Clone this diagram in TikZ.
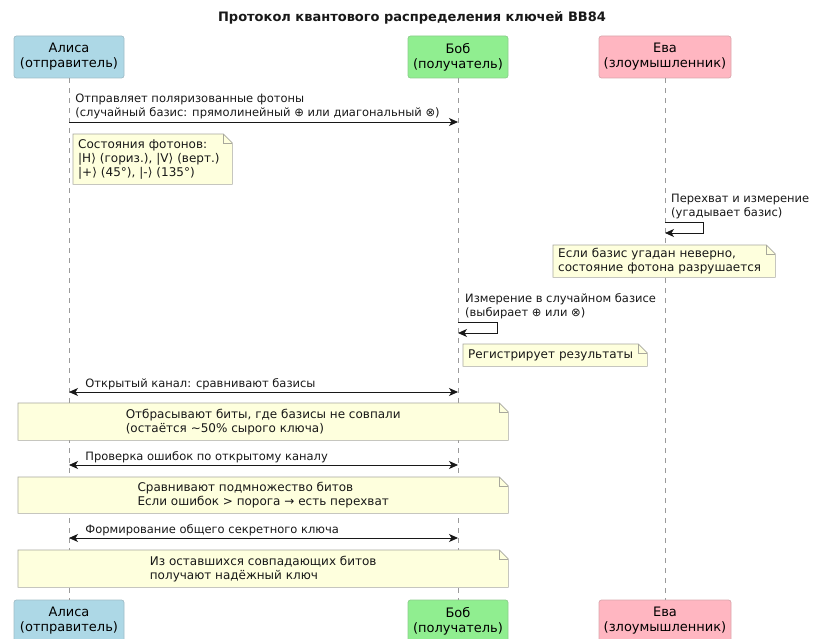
\documentclass[tikz,border=0pt]{standalone}
\usepackage{fontspec}
\setmainfont{DejaVu Sans}
\usetikzlibrary{arrows.meta,positioning,calc}
\definecolor{alicefill}{HTML}{ADD8E6}
\definecolor{bobfill}{HTML}{90EE90}
\definecolor{evefill}{HTML}{FFB6C1}
\definecolor{notefill}{HTML}{FEFFDD}
\definecolor{notedraw}{HTML}{A8A89C}
\definecolor{ink}{HTML}{181818}
\definecolor{lifegray}{HTML}{9A9A9A}
\newcommand{\notefold}[1]{%
  \fill[white] ($(#1.north east)+(-9,0)$) -- (#1.north east) -- ($(#1.north east)+(0,9)$) -- cycle;
  \draw[notedraw,line width=.6pt] (#1.north west) -- ($(#1.north east)+(-9,0)$) -- ($(#1.north east)+(0,9)$)
    -- (#1.south east) -- (#1.south west) -- cycle;
  \draw[notedraw,line width=.6pt] ($(#1.north east)+(-9,0)$) |- ($(#1.north east)+(0,9)$);}

\begin{document}
\begin{tikzpicture}[
  x=1pt,y=-1pt,
  party/.style={draw=#1!70!gray,fill=#1,rounded corners=2.5pt,line width=.7pt,
    minimum height=42pt,inner sep=0pt,align=center,font=\fontsize{13}{15}\selectfont},
  life/.style={draw=lifegray,line width=.6pt,dash pattern=on 5pt off 5pt},
  msg/.style={-{Stealth[length=9pt,width=8pt,inset=2.5pt]},line width=.8pt,draw=ink},
  twoway/.style={msg,{Stealth[length=9pt,width=8pt,inset=2.5pt]}-{Stealth[length=9pt,width=8pt,inset=2.5pt]}},
  msgtext/.style={inner sep=0pt,align=left,anchor=south west,text=ink,
    font=\fontsize{11.5}{13.5}\selectfont},
  note/.style={fill=notefill,inner sep=0pt,align=left,text=ink,
    font=\fontsize{12}{14}\selectfont}
]
\useasboundingbox (0,0) rectangle (813,639);
\node[font=\bfseries\fontsize{13}{15}\selectfont,text=ink] (title) at (412,18)
  {Протокол квантового распределения ключей BB84};
% participants
\node[party=alicefill,minimum width=110pt] (atop) at (69,57) {Алиса\\(отправитель)};
\node[party=bobfill,minimum width=100pt] (btop) at (458,57) {Боб\\(получатель)};
\node[party=evefill,minimum width=132pt] (etop) at (665,57) {Ева\\(злоумышленник)};
\node[party=alicefill,minimum width=110pt] (abot) at (69,621) {Алиса\\(отправитель)};
\node[party=bobfill,minimum width=100pt] (bbot) at (458,621) {Боб\\(получатель)};
\node[party=evefill,minimum width=132pt] (ebot) at (665,621) {Ева\\(злоумышленник)};
\draw[life] (atop) -- (abot);
\draw[life] (btop) -- (bbot);
\draw[life] (etop) -- (ebot);
% photons
\coordinate (a1) at (69,122); \coordinate (b1) at (458,122);
\draw[msg] (a1) -- node[msgtext,pos=0,xshift=6pt,yshift=3pt] (m1)
  {Отправляет поляризованные фотоны\\(случайный базис: прямолинейный ⊕ или диагональный ⊗)} (b1);
\node[note,anchor=north west,minimum height=50pt,text width=149pt,inner xsep=5pt] (n1) at (73,134)
  {Состояния фотонов:\\|H⟩ (гориз.), |V⟩ (верт.)\\|+⟩ (45°), |-⟩ (135°)};
\notefold{n1}
% eve
\coordinate (e1) at (665,222); \coordinate (e2) at (665,233);
\draw[msg] (e1) -- ++(38,0) |- (e2);
\node[msgtext] (m2) at ($(e1)+(6,-3)$) {Перехват и измерение\\(угадывает базис)};
\node[note,anchor=north west,minimum height=32pt,minimum width=222pt,text width=212pt,inner xsep=5pt] (n2) at (553,245)
  {Если базис угадан неверно,\\состояние фотона разрушается};
\notefold{n2}
% bob
\coordinate (b2) at (458,322); \coordinate (b3) at (458,333);
\draw[msg] (b2) -- ++(39,0) |- (b3);
\node[msgtext] (m3) at ($(b2)+(7,-3)$) {Измерение в случайном базисе\\(выбирает ⊕ или ⊗)};
\node[note,anchor=north west,minimum height=22pt,text width=174pt,inner xsep=5pt] (n3) at (463,344)
  {Регистрирует результаты};
\notefold{n3}
% public channel
\coordinate (a4) at (69,392); \coordinate (b4) at (458,392);
\draw[twoway] (a4) -- node[msgtext,pos=0,xshift=16pt,yshift=2pt] (m4) {Открытый канал: сравнивают базисы} (b4);
\node[note,anchor=north west,minimum width=490pt,minimum height=37pt] (n4) at (18,403)
  {Отбрасывают биты, где базисы не совпали\\(остаётся \textasciitilde50\% сырого ключа)};
\notefold{n4}
\coordinate (a5) at (69,465); \coordinate (b5) at (458,465);
\draw[twoway] (a5) -- node[msgtext,pos=0,xshift=16pt,yshift=2pt] (m5) {Проверка ошибок по открытому каналу} (b5);
\node[note,anchor=north west,minimum width=490pt,minimum height=36pt] (n5) at (18,477)
  {Сравнивают подмножество битов\\Если ошибок > порога → есть перехват};
\notefold{n5}
\coordinate (a6) at (69,538); \coordinate (b6) at (458,538);
\draw[twoway] (a6) -- node[msgtext,pos=0,xshift=16pt,yshift=2pt] (m6) {Формирование общего секретного ключа} (b6);
\node[note,anchor=north west,minimum width=490pt,minimum height=37pt] (n6) at (18,550)
  {Из оставшихся совпадающих битов\\получают надёжный ключ};
\notefold{n6}
\end{tikzpicture}
\end{document}
